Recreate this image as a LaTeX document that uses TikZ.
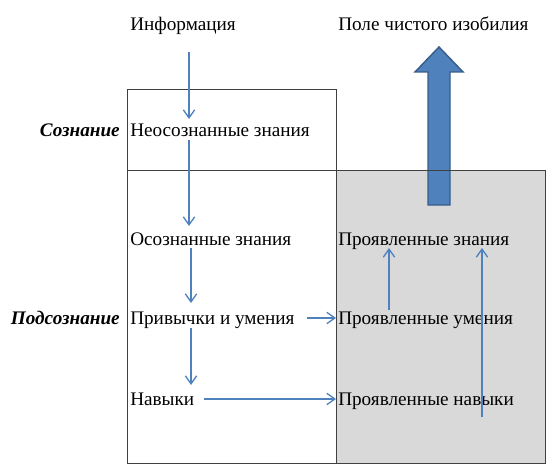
\documentclass[tikz,border=0pt]{standalone}
\usepackage{fontspec}
\setmainfont{Liberation Serif}
\usepackage{tikz}
\usetikzlibrary{positioning, arrows.meta, calc}

\definecolor{flowblue}{HTML}{4F81BD}
\definecolor{flowedge}{HTML}{385D8A}
\definecolor{fieldgray}{HTML}{D9D9D9}
\definecolor{boxline}{HTML}{404040}

\begin{document}
\begin{tikzpicture}[
        x=0.75pt, y=-0.75pt,
        >={Straight Barb[length=6pt, width=8.5pt]},
        arrow_style/.style={->, draw=flowblue, line width=1pt},
        txt/.style={inner sep=0pt, font=\fontsize{14.4}{17}\selectfont},
        side_label/.style={txt, anchor=base east, font=\fontsize{14.4}{17}\selectfont\bfseries\itshape},
        box_style/.style={draw=boxline, line width=0.75pt}
    ]
    \useasboundingbox (0,0) rectangle (554,467);

    % =========================================================================
    % 1. FIELDS (boxes)
    % =========================================================================
    \fill[fieldgray] (336,171) rectangle (545,463);

    % Big arrow up to the field of pure abundance
    \filldraw[fill=flowblue, draw=flowedge, line width=1.1pt]
        (428,205) -- (428,72) -- (415,72) -- (439,47) -- (463,72) -- (450,72) -- (450,205) -- cycle;

    \draw[box_style] (127,90) rectangle (336,171);  % consciousness
    \draw[box_style] (127,171) rectangle (336,463); % subconsciousness
    \draw[box_style] (336,171) rectangle (545,463); % manifested

    % =========================================================================
    % 2. TEXT NODES
    % =========================================================================
    \node[txt, anchor=base west] (info) at (130,31) {Информация};
    \node[txt, anchor=base west] (field) at (338,31) {Поле чистого изобилия};

    \node[txt, anchor=base west] (neo)  at (130,137) {Неосознанные знания};
    \node[txt, anchor=base west] (osoz) at (130,245) {Осознанные знания};
    \node[txt, anchor=base west] (priv) at (130,324) {Привычки и умения};
    \node[txt, anchor=base west] (nav)  at (130,405) {Навыки};

    \node[txt, anchor=base west] (pzn)  at (338,245) {Проявленные знания};
    \node[txt, anchor=base west] (pum)  at (338,324) {Проявленные умения};
    \node[txt, anchor=base west] (pnav) at (338,405) {Проявленные навыки};

    \node[side_label] (soz)  at (120,137) {Сознание};
    \node[side_label] (podz) at (120,324) {Подсознание};

    % Columns for the vertical pointers
    \coordinate (colA) at (189,0);
    \coordinate (colB) at (191,0);
    \coordinate (colC) at (389,0);
    \coordinate (colD) at (482,0);

    % =========================================================================
    % 3. POINTERS
    % =========================================================================
    \draw[arrow_style] ($(info.base -| colA)+(0,21)$) -- ($(neo.base -| colA)+(0,-18)$);
    \draw[arrow_style] ($(neo.base -| colA)+(0,3)$) -- ($(osoz.base -| colA)+(0,-19)$);
    \draw[arrow_style] ($(osoz.base -| colB)+(0,3)$) -- ($(priv.base -| colB)+(0,-21)$);
    \draw[arrow_style] ($(priv.base -| colB)+(0,4)$) -- ($(nav.base -| colB)+(0,-20)$);

    \draw[arrow_style] ($(priv.base east)+(12,-6)$) -- ($(pum.base west)+(-2,-6)$);
    \draw[arrow_style] ($(nav.base east)+(10,-6)$) -- ($(pnav.base west)+(-2,-6)$);

    \draw[arrow_style] ($(pum.base -| colC)+(0,-14)$) -- ($(pzn.base -| colC)+(0,3)$);
    \draw[arrow_style] ($(pnav.base -| colD)+(0,12)$) -- ($(pzn.base -| colD)+(0,3)$);

\end{tikzpicture}
\end{document}
